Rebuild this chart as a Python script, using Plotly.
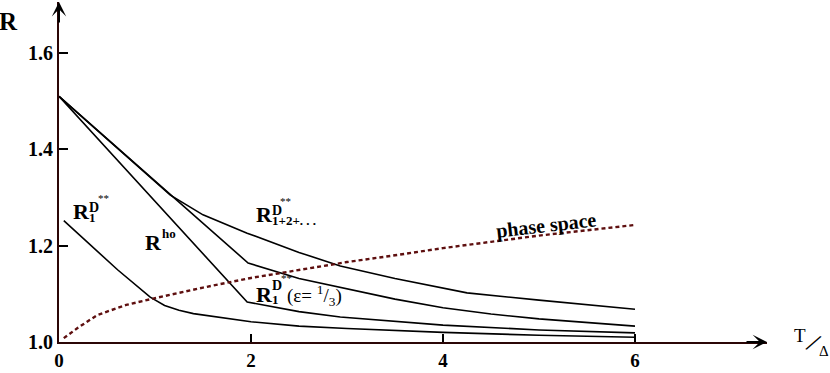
import plotly.graph_objects as go

# curve data (T/Delta, R)
t_sum = [0, 1.16, 1.5, 1.96, 2.5, 2.93, 3.5, 4.25, 5.0, 6.0]
r_sum = [1.510, 1.305, 1.264, 1.226, 1.186, 1.158, 1.132, 1.102, 1.087, 1.068]

t_eps = [0, 1.97, 2.5, 3.0, 3.5, 4.0, 4.5, 5.0, 5.5, 6.0]
r_eps = [1.510, 1.164, 1.132, 1.110, 1.089, 1.071, 1.058, 1.048, 1.040, 1.033]

t_ho = [0, 1.96, 2.5, 2.93, 4.0, 5.0, 6.0]
r_ho = [1.510, 1.083, 1.063, 1.052, 1.035, 1.025, 1.019]

t_r1 = [0.05, 0.61, 0.95, 1.1, 1.25, 1.4, 2.0, 2.5, 3.0, 4.0, 5.0, 6.0]
r_r1 = [1.252, 1.150, 1.093, 1.076, 1.066, 1.059, 1.042, 1.033, 1.028, 1.020, 1.014, 1.010]

t_ps = [0.05, 0.2, 0.4, 0.7, 1.0, 1.5, 2.0, 2.5, 3.0, 3.5, 4.0, 4.5, 5.0, 5.5, 6.0]
r_ps = [1.008, 1.030, 1.056, 1.077, 1.091, 1.113, 1.133, 1.150, 1.166, 1.180, 1.195, 1.208, 1.221, 1.232, 1.243]

x_ticks = [0, 2, 4, 6]
y_ticks = [1.0, 1.2, 1.4, 1.6]

X_MAX = 7.375
Y_MAX = 1.706
AXIS_COL = "#2b0606"
SERIF = "Liberation Serif"

fig = go.Figure()
for tx, ry in [(t_sum, r_sum), (t_eps, r_eps), (t_ho, r_ho), (t_r1, r_r1)]:
    fig.add_trace(go.Scatter(x=tx, y=ry, mode="lines",
                             line=dict(color="black", width=1.6),
                             showlegend=False, hoverinfo="skip"))

fig.add_trace(go.Scatter(x=t_ps, y=r_ps, mode="lines",
                         line=dict(color="#5e0f0f", width=2.4, dash="4px,3px"),
                         showlegend=False, hoverinfo="skip"))

ann = []


def txt(x, y, s, size, bold=True, xs=0, ys=0, angle=0, xanchor="left", ref="data"):
    if bold:
        s = "<b>" + s + "</b>"
    xr, yr = ("x", "y") if ref == "data" else ("paper", "paper")
    ann.append(dict(x=x, y=y, xref=xr, yref=yr, text=s, showarrow=False,
                    xanchor=xanchor, yanchor="middle", xshift=xs, yshift=ys,
                    textangle=angle,
                    font=dict(family=SERIF, size=size, color="black")))


def tensor(x, y, sup, sub, star_x=25, sup_y=4, sub_y=-6, star_y=13):
    txt(x, y, "R", 22)
    txt(x, y, sup, 14, xs=16, ys=sup_y)
    txt(x, y, sub, 13, xs=16, ys=sub_y)
    txt(x, y, "**", 11, bold=False, xs=star_x, ys=star_y)


# R_1^D**
tensor(0.13, 1.271, "D", "1")
# R^ho
txt(0.88, 1.207, "R", 22)
txt(0.88, 1.207, "ho", 13, xs=17, ys=9)
# R_{1+2+...}^D**
tensor(2.03, 1.264, "D", "1+2+. . .", star_x=24, star_y=14)
# R_1^D**(eps = 1/3)
tensor(2.03, 1.098, "D", "1", star_x=25, sup_y=9, sub_y=-5, star_y=17)
txt(2.03, 1.098, "(ε= <sup>1</sup>/<sub>3</sub>)", 19, bold=False, xs=31, ys=-1)

# phase space
txt(5.08, 1.241, "phase space", 20, angle=-6.5, xanchor="center")

# axis titles (paper coordinates, outside the plotting area)
txt(-0.071, 0.944, "R", 25, xanchor="center", ref="paper")
txt(1.0466, 0.02, "T", 19, bold=False, xanchor="center", ref="paper")
txt(1.066, 0.0, "/", 28, bold=False, angle=30, xanchor="center", ref="paper")
txt(1.08, -0.026, "Δ", 15, bold=False, xanchor="center", ref="paper")

# arrow heads on the axes
ann.append(dict(x=0, y=Y_MAX, xref="x", yref="y", ax=0, ay=22, text="",
                showarrow=True, arrowhead=3, arrowsize=1.2, arrowwidth=2,
                arrowcolor="black"))
ann.append(dict(x=X_MAX, y=1.0, xref="x", yref="y", ax=-22, ay=0, text="",
                showarrow=True, arrowhead=3, arrowsize=1.2, arrowwidth=2,
                arrowcolor="black"))

fig.update_layout(
    width=830, height=373,
    margin=dict(l=59, r=63, t=2, b=31),
    plot_bgcolor="white", paper_bgcolor="white",
    annotations=ann,
    xaxis=dict(range=[0, X_MAX], tickvals=x_ticks, ticks="inside", ticklen=8,
               tickwidth=2, tickcolor="black", showline=True, linecolor=AXIS_COL,
               linewidth=2, showgrid=False, zeroline=False, automargin=False,
               tickfont=dict(family=SERIF, size=19, color="black"),
               ticktext=["<b>%d</b>" % v for v in x_ticks]),
    yaxis=dict(range=[1.0, Y_MAX], tickvals=y_ticks, ticks="inside", ticklen=9,
               tickwidth=2, tickcolor="black", showline=True, linecolor=AXIS_COL,
               linewidth=2, showgrid=False, zeroline=False, automargin=False,
               tickfont=dict(family=SERIF, size=20, color="black"),
               ticktext=["<b>%.1f</b>" % v for v in y_ticks]),
)

# drop the default body margin so the figure sits at the window's corner
fig.write_html("out.html", config={"displayModeBar": False},
               post_script="document.body.style.margin='0';")
